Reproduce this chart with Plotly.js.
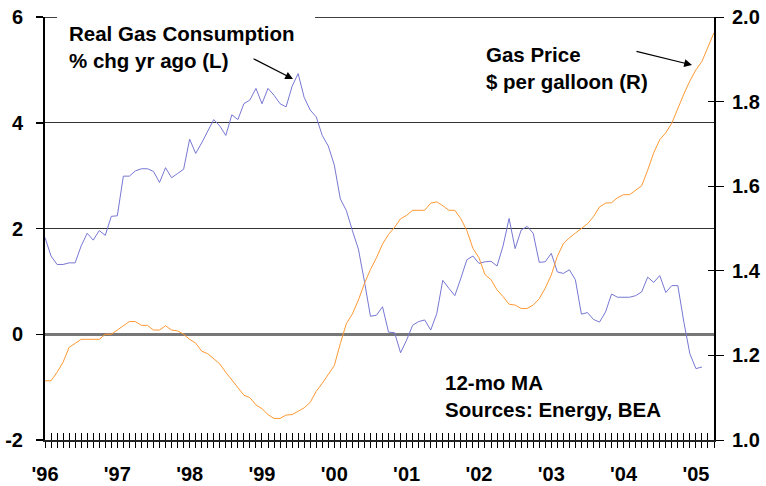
<!DOCTYPE html>
<html>
<head>
<meta charset="utf-8">
<script src="https://cdn.plot.ly/plotly-3.0.1.min.js"></script>
<style>html,body{margin:0;padding:0;background:#fff;}#chart{width:766px;height:486px;}</style>
</head>
<body>
<div id="chart"></div>
<script>
// Monthly, Jan 1996 onward (index 0 = Jan '96)
const yearLabels = ["'96","'97","'98","'99","'00","'01","'02","'03","'04","'05"];
const yearStartIndex = [0,12,24,36,48,60,72,84,96,108];

// Real gas consumption, % chg yr ago, 12-mo MA (left axis)
const consumption = [
  1.83,1.48,1.32,1.32,1.35,1.35,1.67,1.91,1.78,1.96,
  1.87,2.23,2.24,2.99,2.99,3.09,3.13,3.13,3.08,2.87,
  3.15,2.96,3.04,3.12,3.69,3.42,3.62,3.85,4.06,3.94,
  3.76,4.15,4.06,4.36,4.43,4.65,4.36,4.65,4.52,4.36,
  4.30,4.69,4.93,4.48,4.24,4.11,3.76,3.56,3.20,2.56,
  2.34,1.96,1.61,1.00,0.34,0.36,0.52,0.04,0.03,-0.35,
  -0.11,0.17,0.24,0.27,0.08,0.39,1.02,0.87,0.73,1.06,
  1.41,1.48,1.34,1.37,1.38,1.29,1.67,2.19,1.62,1.97,
  2.04,1.91,1.36,1.37,1.53,1.18,1.15,1.22,1.03,0.38,
  0.41,0.28,0.23,0.42,0.76,0.70,0.70,0.70,0.73,0.80,
  1.08,0.98,1.11,0.79,0.92,0.92,0.23,-0.37,-0.65,-0.62
];

// Gas price, $ per gallon, 12-mo MA (right axis)
const gasPrice = [
  1.140,1.140,1.160,1.184,1.219,1.229,1.238,1.238,1.238,1.238,
  1.250,1.250,1.260,1.270,1.280,1.280,1.271,1.271,1.260,1.260,
  1.270,1.260,1.258,1.250,1.238,1.229,1.210,1.204,1.193,1.180,
  1.160,1.141,1.124,1.106,1.100,1.083,1.074,1.060,1.051,1.051,
  1.059,1.060,1.069,1.076,1.089,1.115,1.134,1.156,1.176,1.228,
  1.275,1.298,1.331,1.370,1.403,1.431,1.463,1.486,1.503,1.523,
  1.531,1.543,1.543,1.543,1.560,1.563,1.554,1.543,1.543,1.523,
  1.495,1.453,1.431,1.391,1.379,1.355,1.339,1.321,1.319,1.311,
  1.311,1.319,1.334,1.359,1.390,1.434,1.464,1.478,1.489,1.499,
  1.511,1.528,1.551,1.560,1.561,1.573,1.580,1.580,1.590,1.601,
  1.638,1.679,1.710,1.726,1.749,1.784,1.818,1.849,1.875,1.895,
  1.928,1.963
];

const leftTicks = [-2,0,2,4,6];
const rightTicks = [1.0,1.2,1.4,1.6,1.8,2.0];

const xCons = consumption.map((_, i) => i);
const xPrice = gasPrice.map((_, i) => i);
const nMonths = gasPrice.length - 1;

const FONT = 'Liberation Sans, Arial, sans-serif';
const tickFont = {family: FONT, size: 20, color: '#000', weight: 'bold'};
const noteFont = {family: FONT, size: 20.5, color: '#000', weight: 'bold'};

const traces = [
  {x: xCons, y: consumption, type: 'scatter', mode: 'lines', xaxis: 'x', yaxis: 'y',
   line: {color: '#7777d4', width: 1}, hoverinfo: 'skip'},
  {x: xPrice, y: gasPrice, type: 'scatter', mode: 'lines', xaxis: 'x', yaxis: 'y2',
   line: {color: '#ff9933', width: 1}, hoverinfo: 'skip'},
  // empty helpers so the overlay tick axes are drawn
  {x: [null], y: [null], type: 'scatter', mode: 'lines', xaxis: 'x2', yaxis: 'y', hoverinfo: 'skip'},
  {x: [null], y: [null], type: 'scatter', mode: 'lines', xaxis: 'x', yaxis: 'y3', hoverinfo: 'skip'}
];

const layout = {
  width: 766, height: 486,
  margin: {l: 45, r: 52, t: 17, b: 46, pad: 0},
  paper_bgcolor: '#fff', plot_bgcolor: '#fff',
  showlegend: false,
  xaxis: {
    range: [0, nMonths], tickmode: 'array', tickvals: yearStartIndex, ticktext: yearLabels,
    ticks: 'outside', ticklen: 6, tickwidth: 1, tickcolor: '#000',
    minor: {tickmode: 'linear', tick0: 0, dtick: 1, ticks: 'outside', ticklen: 6, tickwidth: 1, tickcolor: '#000', showgrid: false},
    showline: true, linecolor: '#222', linewidth: 2, showgrid: false, zeroline: false,
    tickfont: tickFont, ticklabelstandoff: 9, fixedrange: true
  },
  xaxis2: {
    range: [0, nMonths], overlaying: 'x', anchor: 'y', side: 'bottom',
    tickmode: 'linear', tick0: 0, dtick: 1, ticks: 'inside', ticklen: 7, tickwidth: 1, tickcolor: '#000',
    showticklabels: false, showline: false, showgrid: false, zeroline: false
  },
  yaxis: {
    range: [-2, 6], tickmode: 'array', tickvals: leftTicks, ticktext: leftTicks.map(String),
    ticks: 'outside', ticklen: 7, tickwidth: 1.5, tickcolor: '#000',
    showline: true, linecolor: '#000', linewidth: 2,
    showgrid: true, gridcolor: '#333', gridwidth: 1.2,
    zeroline: true, zerolinecolor: '#777', zerolinewidth: 2.5,
    tickfont: tickFont, ticklabelstandoff: 9
  },
  yaxis2: {
    range: [1.0, 2.0], overlaying: 'y', side: 'right', anchor: 'x',
    tickmode: 'array', tickvals: rightTicks, ticktext: rightTicks.map(v => v.toFixed(1)),
    ticks: 'outside', ticklen: 8, tickwidth: 1, tickcolor: '#000',
    showline: true, linecolor: '#000', linewidth: 2, showgrid: false, zeroline: false,
    tickfont: tickFont, ticklabelstandoff: 4
  },
  yaxis3: {
    range: [1.0, 2.0], overlaying: 'y', side: 'right', anchor: 'x',
    tickmode: 'array', tickvals: rightTicks, ticks: 'inside', ticklen: 6, tickwidth: 1, tickcolor: '#000',
    showticklabels: false, showline: false, showgrid: false, zeroline: false
  },
  shapes: [
    {type: 'line', xref: 'paper', yref: 'y', x0: 0, x1: 0.018, y0: 6, y1: 6, line: {color: '#000', width: 1.5}},
    {type: 'line', xref: 'paper', yref: 'y', x0: 0.4036, x1: 1, y0: 6, y1: 6, line: {color: '#000', width: 1.5}}
  ],
  annotations: [
    {xref: 'paper', yref: 'paper', x: 0.0329, y: 0.929, xanchor: 'left', yanchor: 'middle', align: 'left',
     showarrow: false, text: 'Real Gas Consumption<br>% chg yr ago (L)', font: noteFont},
    {xref: 'paper', yref: 'paper', x: 0.6562, y: 0.8806, xanchor: 'left', yanchor: 'middle', align: 'left',
     showarrow: false, text: 'Gas Price<br>$ per galloon (R)', font: noteFont},
    {xref: 'paper', yref: 'paper', x: 0.5949, y: 0.104, xanchor: 'left', yanchor: 'middle', align: 'left',
     showarrow: false, text: '12-mo MA<br>Sources: Energy, BEA', font: noteFont},
    {xref: 'paper', yref: 'paper', x: 0.3707, y: 0.8534, ax: -41, ay: -21, text: '', showarrow: true,
     arrowhead: 2, arrowsize: 1.3, arrowwidth: 1.2, arrowcolor: '#000'},
    {xref: 'paper', yref: 'paper', x: 0.9671, y: 0.8865, ax: -57, ay: -14, text: '', showarrow: true,
     arrowhead: 2, arrowsize: 1.3, arrowwidth: 1.2, arrowcolor: '#000'}
  ]
};

Plotly.newPlot('chart', traces, layout, {staticPlot: true, displayModeBar: false});
</script>
</body>
</html>
